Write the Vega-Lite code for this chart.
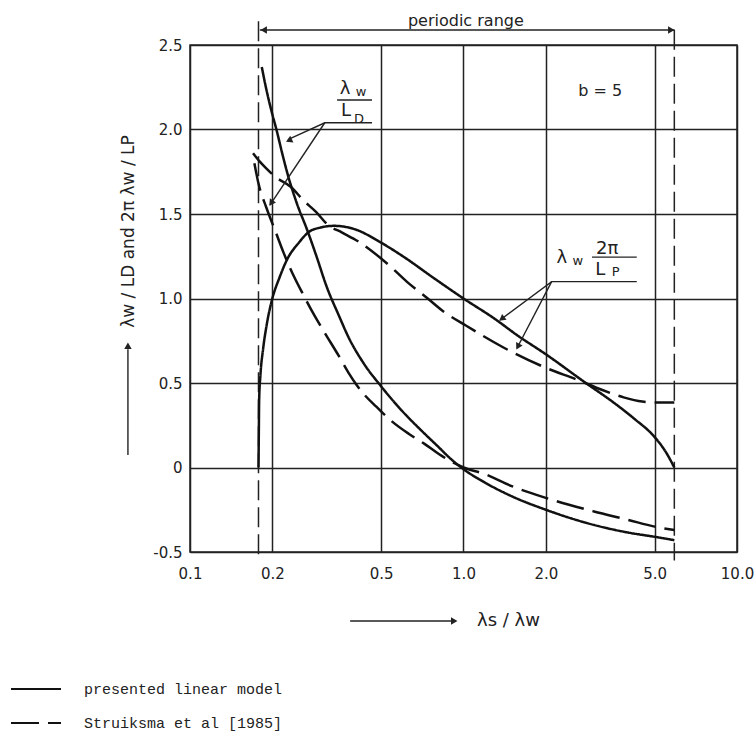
{
  "$schema": "https://vega.github.io/schema/vega-lite/v6.json",
  "width": 547,
  "height": 507,
  "autosize": {"type": "none"},
  "padding": {"left": 190, "top": 45, "right": 19, "bottom": 189},
  "background": "white",
  "config": {"view": {"stroke": "#222", "strokeWidth": 1.5}, "font": "DejaVu Sans"},
  "datasets": {
    "curves": [
      {"curve": "ld_p", "model": "presented linear model", "x": 0.183, "y": 2.37},
      {"curve": "ld_p", "model": "presented linear model", "x": 0.19, "y": 2.24},
      {"curve": "ld_p", "model": "presented linear model", "x": 0.2, "y": 2.09},
      {"curve": "ld_p", "model": "presented linear model", "x": 0.207, "y": 2.0},
      {"curve": "ld_p", "model": "presented linear model", "x": 0.218, "y": 1.85},
      {"curve": "ld_p", "model": "presented linear model", "x": 0.228, "y": 1.73},
      {"curve": "ld_p", "model": "presented linear model", "x": 0.245, "y": 1.57},
      {"curve": "ld_p", "model": "presented linear model", "x": 0.269, "y": 1.4},
      {"curve": "ld_p", "model": "presented linear model", "x": 0.29, "y": 1.25},
      {"curve": "ld_p", "model": "presented linear model", "x": 0.316, "y": 1.07},
      {"curve": "ld_p", "model": "presented linear model", "x": 0.35, "y": 0.9},
      {"curve": "ld_p", "model": "presented linear model", "x": 0.38, "y": 0.77},
      {"curve": "ld_p", "model": "presented linear model", "x": 0.43, "y": 0.62},
      {"curve": "ld_p", "model": "presented linear model", "x": 0.5, "y": 0.48},
      {"curve": "ld_p", "model": "presented linear model", "x": 0.6, "y": 0.33},
      {"curve": "ld_p", "model": "presented linear model", "x": 0.7, "y": 0.22},
      {"curve": "ld_p", "model": "presented linear model", "x": 0.8, "y": 0.13},
      {"curve": "ld_p", "model": "presented linear model", "x": 0.9, "y": 0.05},
      {"curve": "ld_p", "model": "presented linear model", "x": 1.0, "y": -0.01},
      {"curve": "ld_p", "model": "presented linear model", "x": 1.2, "y": -0.09},
      {"curve": "ld_p", "model": "presented linear model", "x": 1.5, "y": -0.17},
      {"curve": "ld_p", "model": "presented linear model", "x": 2.0, "y": -0.25},
      {"curve": "ld_p", "model": "presented linear model", "x": 3.0, "y": -0.34},
      {"curve": "ld_p", "model": "presented linear model", "x": 4.0, "y": -0.385},
      {"curve": "ld_p", "model": "presented linear model", "x": 5.0, "y": -0.41},
      {"curve": "ld_p", "model": "presented linear model", "x": 5.9, "y": -0.43},
      {"curve": "ld_s", "model": "Struiksma et al [1985]", "x": 0.172, "y": 1.8},
      {"curve": "ld_s", "model": "Struiksma et al [1985]", "x": 0.178, "y": 1.68},
      {"curve": "ld_s", "model": "Struiksma et al [1985]", "x": 0.19, "y": 1.54},
      {"curve": "ld_s", "model": "Struiksma et al [1985]", "x": 0.205, "y": 1.4},
      {"curve": "ld_s", "model": "Struiksma et al [1985]", "x": 0.22, "y": 1.27},
      {"curve": "ld_s", "model": "Struiksma et al [1985]", "x": 0.24, "y": 1.13},
      {"curve": "ld_s", "model": "Struiksma et al [1985]", "x": 0.26, "y": 1.02},
      {"curve": "ld_s", "model": "Struiksma et al [1985]", "x": 0.285, "y": 0.9},
      {"curve": "ld_s", "model": "Struiksma et al [1985]", "x": 0.31, "y": 0.8},
      {"curve": "ld_s", "model": "Struiksma et al [1985]", "x": 0.35, "y": 0.66},
      {"curve": "ld_s", "model": "Struiksma et al [1985]", "x": 0.38, "y": 0.56},
      {"curve": "ld_s", "model": "Struiksma et al [1985]", "x": 0.406, "y": 0.49},
      {"curve": "ld_s", "model": "Struiksma et al [1985]", "x": 0.44, "y": 0.42},
      {"curve": "ld_s", "model": "Struiksma et al [1985]", "x": 0.48, "y": 0.36},
      {"curve": "ld_s", "model": "Struiksma et al [1985]", "x": 0.55, "y": 0.27},
      {"curve": "ld_s", "model": "Struiksma et al [1985]", "x": 0.63, "y": 0.2},
      {"curve": "ld_s", "model": "Struiksma et al [1985]", "x": 0.72, "y": 0.14},
      {"curve": "ld_s", "model": "Struiksma et al [1985]", "x": 0.83, "y": 0.07},
      {"curve": "ld_s", "model": "Struiksma et al [1985]", "x": 1.0, "y": 0.0},
      {"curve": "ld_s", "model": "Struiksma et al [1985]", "x": 1.2, "y": -0.04},
      {"curve": "ld_s", "model": "Struiksma et al [1985]", "x": 1.5, "y": -0.11},
      {"curve": "ld_s", "model": "Struiksma et al [1985]", "x": 2.0, "y": -0.18},
      {"curve": "ld_s", "model": "Struiksma et al [1985]", "x": 3.0, "y": -0.26},
      {"curve": "ld_s", "model": "Struiksma et al [1985]", "x": 4.0, "y": -0.31},
      {"curve": "ld_s", "model": "Struiksma et al [1985]", "x": 5.0, "y": -0.35},
      {"curve": "ld_s", "model": "Struiksma et al [1985]", "x": 5.9, "y": -0.37},
      {"curve": "p_p", "model": "presented linear model", "x": 0.178, "y": 0.0},
      {"curve": "p_p", "model": "presented linear model", "x": 0.1785, "y": 0.2},
      {"curve": "p_p", "model": "presented linear model", "x": 0.179, "y": 0.4},
      {"curve": "p_p", "model": "presented linear model", "x": 0.181, "y": 0.55},
      {"curve": "p_p", "model": "presented linear model", "x": 0.185, "y": 0.7},
      {"curve": "p_p", "model": "presented linear model", "x": 0.191, "y": 0.85},
      {"curve": "p_p", "model": "presented linear model", "x": 0.2, "y": 1.0},
      {"curve": "p_p", "model": "presented linear model", "x": 0.212, "y": 1.12},
      {"curve": "p_p", "model": "presented linear model", "x": 0.228, "y": 1.24},
      {"curve": "p_p", "model": "presented linear model", "x": 0.25, "y": 1.33},
      {"curve": "p_p", "model": "presented linear model", "x": 0.27, "y": 1.39},
      {"curve": "p_p", "model": "presented linear model", "x": 0.3, "y": 1.42},
      {"curve": "p_p", "model": "presented linear model", "x": 0.336, "y": 1.43},
      {"curve": "p_p", "model": "presented linear model", "x": 0.4, "y": 1.41},
      {"curve": "p_p", "model": "presented linear model", "x": 0.5, "y": 1.33},
      {"curve": "p_p", "model": "presented linear model", "x": 0.6, "y": 1.25},
      {"curve": "p_p", "model": "presented linear model", "x": 0.78, "y": 1.12},
      {"curve": "p_p", "model": "presented linear model", "x": 1.0, "y": 1.0},
      {"curve": "p_p", "model": "presented linear model", "x": 1.3, "y": 0.88},
      {"curve": "p_p", "model": "presented linear model", "x": 1.58, "y": 0.78},
      {"curve": "p_p", "model": "presented linear model", "x": 2.0, "y": 0.67},
      {"curve": "p_p", "model": "presented linear model", "x": 2.8, "y": 0.5},
      {"curve": "p_p", "model": "presented linear model", "x": 3.5, "y": 0.39},
      {"curve": "p_p", "model": "presented linear model", "x": 4.2, "y": 0.29},
      {"curve": "p_p", "model": "presented linear model", "x": 5.0, "y": 0.18},
      {"curve": "p_p", "model": "presented linear model", "x": 5.5, "y": 0.09},
      {"curve": "p_p", "model": "presented linear model", "x": 5.9, "y": 0.0},
      {"curve": "p_s", "model": "Struiksma et al [1985]", "x": 0.17, "y": 1.86},
      {"curve": "p_s", "model": "Struiksma et al [1985]", "x": 0.18, "y": 1.81},
      {"curve": "p_s", "model": "Struiksma et al [1985]", "x": 0.19, "y": 1.77},
      {"curve": "p_s", "model": "Struiksma et al [1985]", "x": 0.205, "y": 1.72},
      {"curve": "p_s", "model": "Struiksma et al [1985]", "x": 0.234, "y": 1.66},
      {"curve": "p_s", "model": "Struiksma et al [1985]", "x": 0.26, "y": 1.58},
      {"curve": "p_s", "model": "Struiksma et al [1985]", "x": 0.29, "y": 1.51},
      {"curve": "p_s", "model": "Struiksma et al [1985]", "x": 0.317, "y": 1.44},
      {"curve": "p_s", "model": "Struiksma et al [1985]", "x": 0.36, "y": 1.39},
      {"curve": "p_s", "model": "Struiksma et al [1985]", "x": 0.41, "y": 1.34},
      {"curve": "p_s", "model": "Struiksma et al [1985]", "x": 0.54, "y": 1.19},
      {"curve": "p_s", "model": "Struiksma et al [1985]", "x": 0.62, "y": 1.1},
      {"curve": "p_s", "model": "Struiksma et al [1985]", "x": 0.74, "y": 1.0},
      {"curve": "p_s", "model": "Struiksma et al [1985]", "x": 0.85, "y": 0.92},
      {"curve": "p_s", "model": "Struiksma et al [1985]", "x": 1.02, "y": 0.84},
      {"curve": "p_s", "model": "Struiksma et al [1985]", "x": 1.4, "y": 0.71},
      {"curve": "p_s", "model": "Struiksma et al [1985]", "x": 2.0, "y": 0.59},
      {"curve": "p_s", "model": "Struiksma et al [1985]", "x": 2.6, "y": 0.52},
      {"curve": "p_s", "model": "Struiksma et al [1985]", "x": 3.2, "y": 0.46},
      {"curve": "p_s", "model": "Struiksma et al [1985]", "x": 3.85, "y": 0.415},
      {"curve": "p_s", "model": "Struiksma et al [1985]", "x": 4.5, "y": 0.39},
      {"curve": "p_s", "model": "Struiksma et al [1985]", "x": 5.0, "y": 0.385},
      {"curve": "p_s", "model": "Struiksma et al [1985]", "x": 5.9, "y": 0.385}
    ],
    "boundaries": [
      {"x": 0.178, "y": 2.64, "y2": -0.55},
      {"x": 5.9, "y": 2.59, "y2": -0.55}
    ],
    "guides": [
      {"id": "ldbar", "order": 1, "x": 0.345, "y": 2.175},
      {"id": "ldbar", "order": 2, "x": 0.463, "y": 2.175},
      {"id": "ld1", "order": 1, "x": 0.463, "y": 2.04},
      {"id": "ld1", "order": 2, "x": 0.311, "y": 2.04},
      {"id": "ld1", "order": 3, "x": 0.228, "y": 1.94},
      {"id": "ld2", "order": 1, "x": 0.311, "y": 2.04},
      {"id": "ld2", "order": 2, "x": 0.196, "y": 1.553},
      {"id": "pbar", "order": 1, "x": 2.95, "y": 1.245},
      {"id": "pbar", "order": 2, "x": 4.3, "y": 1.245},
      {"id": "p1", "order": 1, "x": 4.3, "y": 1.1},
      {"id": "p1", "order": 2, "x": 2.1, "y": 1.1},
      {"id": "p1", "order": 3, "x": 1.36, "y": 0.873},
      {"id": "p2", "order": 1, "x": 2.1, "y": 1.1},
      {"id": "p2", "order": 2, "x": 1.57, "y": 0.707},
      {"id": "periodic", "order": 1, "x": 0.18, "y": 2.589},
      {"id": "periodic", "order": 2, "x": 5.9, "y": 2.589},
      {"id": "yarrow", "order": 1, "x": 0.0593, "y": 0.074},
      {"id": "yarrow", "order": 2, "x": 0.0593, "y": 0.7},
      {"id": "xarrow", "order": 1, "x": 0.385, "y": -0.908},
      {"id": "xarrow", "order": 2, "x": 0.9, "y": -0.908}
    ],
    "heads": [
      {"dir": "a245", "x": 0.23, "y": 1.935},
      {"dir": "a214", "x": 0.198, "y": 1.565},
      {"dir": "a233", "x": 1.38, "y": 0.88},
      {"dir": "a208", "x": 1.58, "y": 0.715},
      {"dir": "left", "x": 0.186, "y": 2.589},
      {"dir": "right", "x": 5.75, "y": 2.589},
      {"dir": "up", "x": 0.0593, "y": 0.72},
      {"dir": "right", "x": 0.925, "y": -0.908}
    ],
    "labelMain": [
      {"text": "λ", "x": 0.369, "y": 2.24},
      {"text": "L", "x": 0.372, "y": 2.11},
      {"text": "λ", "x": 2.29, "y": 1.24},
      {"text": "2π", "x": 3.35, "y": 1.29},
      {"text": "L", "x": 3.16, "y": 1.17}
    ],
    "labelSub": [
      {"text": "w", "x": 0.422, "y": 2.22},
      {"text": "D", "x": 0.415, "y": 2.06},
      {"text": "w", "x": 2.62, "y": 1.22},
      {"text": "P", "x": 3.6, "y": 1.157}
    ],
    "notes": [
      {"text": "periodic range", "x": 1.02, "y": 2.64},
      {"text": "b = 5", "x": 3.16, "y": 2.23}
    ]
  },
  "encoding": {
    "x": {
      "field": "x",
      "type": "quantitative",
      "scale": {"type": "log", "domain": [0.1, 10], "nice": false},
      "axis": {
        "values": [0.1, 0.2, 0.5, 1, 2, 5, 10],
        "format": ".1f",
        "grid": true,
        "gridColor": "#222",
        "gridWidth": 1.5,
        "gridOpacity": 1,
        "ticks": false,
        "domain": false,
        "labelFont": "DejaVu Sans",
        "labelFontSize": 15,
        "labelColor": "#222",
        "labelPadding": 14,
        "labelFlush": false,
        "labelOverlap": false,
        "title": "λs / λw",
        "titleFont": "DejaVu Sans",
        "titleFontSize": 18,
        "titleFontWeight": "normal",
        "titleColor": "#222",
        "titleX": 318,
        "titleY": 68,
        "titleBaseline": "middle",
        "titleAlign": "center"
      }
    },
    "y": {
      "field": "y",
      "type": "quantitative",
      "scale": {"domain": [-0.5, 2.5], "nice": false, "zero": false},
      "axis": {
        "values": [-0.5, 0, 0.5, 1, 1.5, 2, 2.5],
        "labelExpr": "datum.value == 0 ? '0' : replace(format(datum.value, '.1f'), '−', '-')",
        "grid": true,
        "gridColor": "#222",
        "gridWidth": 1.5,
        "gridOpacity": 1,
        "ticks": false,
        "domain": false,
        "labelFont": "DejaVu Sans",
        "labelFontSize": 15,
        "labelColor": "#222",
        "labelPadding": 8,
        "labelFlush": false,
        "labelOverlap": false,
        "title": "λw / LD  and  2π λw / LP",
        "titleFont": "DejaVu Sans",
        "titleFontSize": 17,
        "titleFontWeight": "normal",
        "titleColor": "#222",
        "titleAngle": -90,
        "titleX": -62,
        "titleY": 186,
        "titleBaseline": "middle",
        "titleAlign": "center"
      }
    }
  },
  "layer": [
    {
      "data": {"name": "boundaries"},
      "mark": {"type": "rule", "strokeDash": [20, 7], "strokeWidth": 1.5, "color": "#222"},
      "encoding": {"y2": {"field": "y2"}}
    },
    {
      "data": {"name": "curves"},
      "mark": {"type": "line", "strokeWidth": 2.5, "color": "#111", "interpolate": "monotone"},
      "encoding": {
        "detail": {"field": "curve", "type": "nominal"},
        "strokeDash": {
          "field": "model",
          "type": "nominal",
          "scale": {"domain": ["presented linear model", "Struiksma et al [1985]"], "range": [[1, 0], [28, 9]]},
          "legend": {
            "orient": "none",
            "legendX": -180,
            "legendY": 618,
            "title": null,
            "symbolType": "stroke",
            "symbolSize": 2500,
            "symbolStrokeWidth": 2,
            "symbolStrokeColor": "#111",
            "labelFont": "Liberation Mono",
            "labelFontSize": 15,
            "labelColor": "#222",
            "labelOffset": 22,
            "labelLimit": 0,
            "rowPadding": -19
          }
        }
      }
    },
    {
      "data": {"name": "guides"},
      "mark": {"type": "line", "strokeWidth": 1.4, "color": "#222"},
      "encoding": {
        "detail": {"field": "id", "type": "nominal"},
        "order": {"field": "order", "type": "quantitative"}
      }
    },
    {
      "data": {"name": "heads"},
      "mark": {"type": "point", "shape": "triangle-up", "filled": true, "size": 55, "color": "#222", "opacity": 1},
      "encoding": {
        "angle": {
          "field": "dir",
          "type": "nominal",
          "scale": {"type": "ordinal", "domain": ["up", "right", "left", "a245", "a214", "a233", "a208"], "range": [0, 90, 270, 245, 214, 233, 208]},
          "legend": null
        }
      }
    },
    {
      "data": {"name": "labelMain"},
      "mark": {"type": "text", "fontSize": 18, "font": "DejaVu Sans", "color": "#222", "align": "center", "baseline": "middle"},
      "encoding": {"text": {"field": "text", "type": "nominal"}}
    },
    {
      "data": {"name": "labelSub"},
      "mark": {"type": "text", "fontSize": 13, "font": "DejaVu Sans", "color": "#222", "align": "center", "baseline": "middle"},
      "encoding": {"text": {"field": "text", "type": "nominal"}}
    },
    {
      "data": {"name": "notes"},
      "mark": {"type": "text", "fontSize": 16, "font": "DejaVu Sans", "color": "#222", "align": "center", "baseline": "middle"},
      "encoding": {"text": {"field": "text", "type": "nominal"}}
    }
  ]
}
